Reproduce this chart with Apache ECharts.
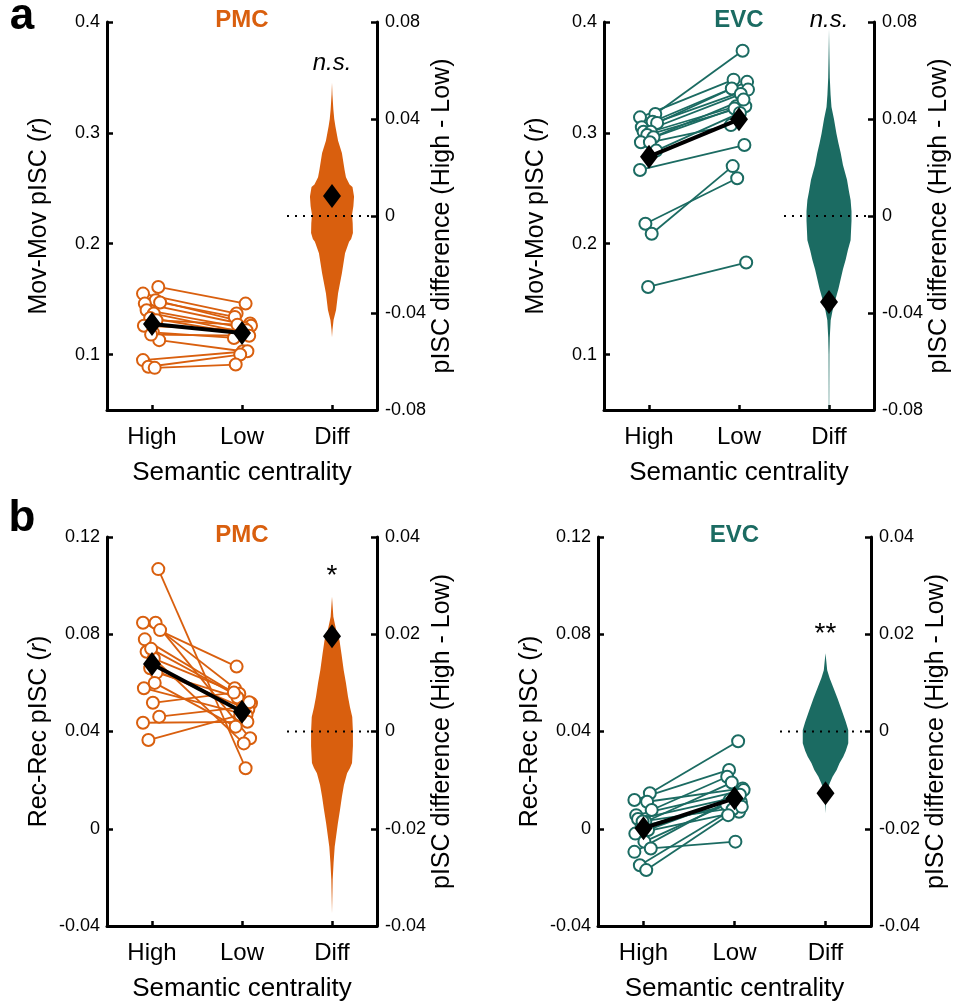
<!DOCTYPE html>
<html>
<head>
<meta charset="utf-8">
<script src="https://cdn.jsdelivr.net/npm/echarts@6/dist/echarts.min.js"></script>
<style>
  html, body { margin: 0; padding: 0; background: #fff; }
  #chart { width: 958px; height: 1003px; }
</style>
</head>
<body>
<div id="chart"></div>
<script>
// ---- data ----
const categories = ['High', 'Low', 'Diff'];

// Movie-movie pISC, PMC (one value per subject)
const movPmcHigh = [0.161, 0.155, 0.149, 0.147, 0.146, 0.140, 0.137, 0.133, 0.131, 0.126, 0.120, 0.113, 0.095, 0.089, 0.088, 0.118];
const movPmcLow  = [0.146, 0.137, 0.128, 0.134, 0.126, 0.124, 0.121, 0.118, 0.127, 0.122, 0.115, 0.103, 0.103, 0.100, 0.091, 0.117];
const movPmcMean = [0.1276, 0.1195];
const movPmcDiff = 0.0082;

// Movie-movie pISC, EVC
const movEvcHigh = [0.317, 0.314, 0.310, 0.309, 0.305, 0.301, 0.301, 0.298, 0.296, 0.2915, 0.2915, 0.284, 0.2665, 0.218, 0.209, 0.161];
const movEvcLow  = [0.374, 0.348, 0.346, 0.340, 0.339, 0.335, 0.324, 0.324, 0.322, 0.330, 0.307, 0.318, 0.289, 0.259, 0.270, 0.183];
const movEvcMean = [0.2785, 0.3122];
const movEvcDiff = -0.0355;

// Recall-recall pISC, PMC
const recPmcHigh = [0.1068, 0.0847, 0.0847, 0.0817, 0.0779, 0.0728, 0.0700, 0.0660, 0.0642, 0.0578, 0.0518, 0.0461, 0.0436, 0.0365, 0.0600, 0.0740];
const recPmcLow  = [0.0249, 0.0667, 0.0372, 0.0578, 0.0516, 0.0351, 0.0555, 0.0490, 0.0540, 0.0468, 0.0560, 0.0500, 0.0440, 0.0468, 0.0420, 0.0520];
const recPmcMean = [0.0678, 0.0481];
const recPmcDiff = 0.0196;

// Recall-recall pISC, EVC
const recEvcHigh = [0.0146, 0.0118, 0.0111, 0.0077, 0.0056, 0.0040, 0.0029, 0.0010, -0.0005, -0.0020, -0.0053, -0.0081, -0.0095, -0.0150, -0.0170, 0.0030];
const recEvcLow  = [0.0360, 0.0242, 0.0166, 0.0214, 0.0159, 0.0130, 0.0190, 0.0110, 0.0120, 0.0070, 0.0100, -0.0053, 0.0140, 0.0080, 0.0056, 0.0090];
const recEvcMean = [0.0002, 0.0125];
const recEvcDiff = -0.0127;

// horizontal scatter of subject markers (category units)
const jitterHigh = [0.07, -0.10, 0.04, 0.09, -0.08, -0.06, 0.02, -0.02, 0.05, -0.09, 0.01, 0.08, -0.10, -0.04, 0.03, -0.01];
const jitterLow  = [0.04, -0.06, 0.09, -0.08, 0.10, 0.02, -0.03, 0.07, -0.05, 0.05, -0.09, 0.01, 0.06, -0.02, -0.07, 0.08];

// permutation null distributions of High - Low: [difference, relative density]
const nullMovPmc = [[0.055,0],[0.050,0.02],[0.044,0.06],[0.040,0.1],[0.037,0.15],[0.031,0.27],[0.026,0.44],[0.019,0.56],[0.016,0.62],[0.013,0.78],[0.012,0.91],[0.008,0.98],[0.004,0.95],[0.0005,0.89],[-0.003,0.92],[-0.007,0.93],[-0.0095,0.85],[-0.0106,0.76],[-0.0154,0.58],[-0.0236,0.44],[-0.0319,0.27],[-0.0388,0.18],[-0.0429,0.07],[-0.047,0.02],[-0.050,0]];
const nullMovEvc = [[0.077,0],[0.065,0.02],[0.057,0.035],[0.050,0.07],[0.045,0.11],[0.040,0.22],[0.034,0.33],[0.030,0.42],[0.026,0.52],[0.021,0.62],[0.015,0.8],[0.010,0.89],[0.0066,0.96],[0.002,1.0],[-0.002,1.0],[-0.006,0.98],[-0.010,0.96],[-0.014,0.84],[-0.018,0.74],[-0.022,0.62],[-0.026,0.52],[-0.030,0.42],[-0.033,0.33],[-0.037,0.2],[-0.043,0.075],[-0.050,0.035],[-0.057,0.018],[-0.070,0.013],[-0.079,0.01],[-0.080,0]];
const nullRecPmc = [[0.0277,0],[0.0236,0.06],[0.021,0.18],[0.0188,0.33],[0.016,0.42],[0.0126,0.52],[0.010,0.62],[0.0072,0.71],[0.005,0.8],[0.003,0.9],[0.000,0.93],[-0.003,0.93],[-0.0065,0.89],[-0.0075,0.8],[-0.0086,0.67],[-0.011,0.53],[-0.0134,0.44],[-0.016,0.36],[-0.0189,0.26],[-0.0237,0.12],[-0.027,0.07],[-0.0305,0.03],[-0.0374,0]];
const nullRecEvc = [[0.0161,0],[0.0126,0.075],[0.011,0.18],[0.0092,0.33],[0.0068,0.53],[0.0044,0.71],[0.002,0.89],[0.0003,1.0],[-0.0024,1.0],[-0.004,0.89],[-0.0052,0.78],[-0.0065,0.62],[-0.0079,0.49],[-0.0093,0.31],[-0.0107,0.18],[-0.012,0.09],[-0.0134,0.03],[-0.0168,0]];

// tick labels
const movTicks = [0.1, 0.2, 0.3, 0.4];
const movDiffTicks = [-0.08, -0.04, 0, 0.04, 0.08];
const recTicks = [-0.04, 0, 0.04, 0.08, 0.12];
const recDiffTicks = [-0.04, -0.02, 0, 0.02, 0.04];

// ---- styling ----
const FONT = "'Liberation Sans', Arial, Helvetica, sans-serif";
const ORANGE = '#D95F0E';
const TEAL = '#1B6B62';
const VIOLIN_HALF = 0.25; // max half-width of a violin, in category units

const panels = [
  { grid: { left: 107, top: 22, width: 270, height: 388 }, color: ORANGE, title: 'PMC',
    high: movPmcHigh, low: movPmcLow, mean: movPmcMean, diff: movPmcDiff, dist: nullMovPmc,
    yName: 'Mov-Mov pISC ({it|r})', yMin: 0.05, yMax: 0.4, yTicks: movTicks,
    dMin: -0.08, dMax: 0.08, dTicks: movDiffTicks, sig: 'n.s.', sigAt: 0.0631, sigItalic: true },
  { grid: { left: 604, top: 22, width: 270, height: 388 }, color: TEAL, title: 'EVC',
    high: movEvcHigh, low: movEvcLow, mean: movEvcMean, diff: movEvcDiff, dist: nullMovEvc,
    yName: 'Mov-Mov pISC ({it|r})', yMin: 0.05, yMax: 0.4, yTicks: movTicks,
    dMin: -0.08, dMax: 0.08, dTicks: movDiffTicks, sig: 'n.s.', sigAt: 0.0808, sigItalic: true },
  { grid: { left: 107, top: 537, width: 270, height: 389 }, color: ORANGE, title: 'PMC',
    high: recPmcHigh, low: recPmcLow, mean: recPmcMean, diff: recPmcDiff, dist: nullRecPmc,
    yName: 'Rec-Rec pISC ({it|r})', yMin: -0.04, yMax: 0.12, yTicks: recTicks,
    dMin: -0.04, dMax: 0.04, dTicks: recDiffTicks, sig: '*', sigAt: 0.032, sigItalic: false },
  { grid: { left: 598, top: 537, width: 273, height: 389 }, color: TEAL, title: 'EVC',
    high: recEvcHigh, low: recEvcLow, mean: recEvcMean, diff: recEvcDiff, dist: nullRecEvc,
    yName: 'Rec-Rec pISC ({it|r})', yMin: -0.04, yMax: 0.12, yTicks: recTicks,
    dMin: -0.04, dMax: 0.04, dTicks: recDiffTicks, sig: '**', sigAt: 0.020, sigItalic: false }
];

const grids = [], xAxes = [], yAxes = [], series = [], graphics = [];

const axisLineStyle = { color: '#000', width: 3 };
const tickLabel = { color: '#000', fontSize: 18, fontFamily: FONT };

panels.forEach((p, i) => {
  grids.push(Object.assign({ containLabel: false }, p.grid));
  const xv = 2 * i, xc = 2 * i + 1, yl = 2 * i, yr = 2 * i + 1;

  // hidden value axis used to place marks; category axis for labels/ticks
  xAxes.push({ type: 'value', gridIndex: i, min: 0.5, max: 3.5, show: false });
  xAxes.push({
    type: 'category', gridIndex: i, data: categories, boundaryGap: true, position: 'bottom',
    axisLine: { show: true, onZero: false, lineStyle: axisLineStyle },
    axisTick: { show: true, alignWithLabel: true, inside: true, length: 5, lineStyle: { color: '#000', width: 2.5 } },
    axisLabel: { color: '#000', fontSize: 24, fontFamily: FONT, margin: 15 },
    splitLine: { show: false },
    name: 'Semantic centrality', nameLocation: 'middle', nameGap: 50,
    nameTextStyle: { color: '#000', fontSize: 26, fontFamily: FONT }
  });

  yAxes.push({
    type: 'value', gridIndex: i, position: 'left', min: p.yMin, max: p.yMax,
    axisLine: { show: true, onZero: false, lineStyle: axisLineStyle },
    axisTick: { show: true, inside: true, length: 6, customValues: p.yTicks, lineStyle: { color: '#000', width: 2.5 } },
    axisLabel: Object.assign({ margin: 7, customValues: p.yTicks, formatter: v => String(v) }, tickLabel),
    splitLine: { show: false },
    name: p.yName, nameLocation: 'middle', nameRotate: 90, nameGap: 55,
    nameTextStyle: { color: '#000', fontSize: 25, fontFamily: FONT,
      rich: { it: { fontStyle: 'italic', fontSize: 25, fontFamily: FONT, color: '#000' } } }
  });
  yAxes.push({
    type: 'value', gridIndex: i, position: 'right', min: p.dMin, max: p.dMax,
    axisLine: { show: true, onZero: false, lineStyle: axisLineStyle },
    axisTick: { show: true, inside: true, length: 6, customValues: p.dTicks, lineStyle: { color: '#000', width: 2.5 } },
    axisLabel: Object.assign({ margin: 8, customValues: p.dTicks, formatter: v => String(v) }, tickLabel),
    splitLine: { show: false },
    name: 'pISC difference (High - Low)', nameLocation: 'middle', nameRotate: 90, nameGap: 48,
    nameTextStyle: { color: '#000', fontSize: 25, fontFamily: FONT }
  });

  // null distribution violin at the Diff position
  const dist = p.dist, col = p.color;
  series.push({
    type: 'custom', xAxisIndex: xv, yAxisIndex: yr, z: 1, silent: true, clip: false,
    data: [[3, 0]],
    renderItem: (params, api) => {
      const right = [], left = [];
      dist.forEach(([v, d]) => {
        right.push(api.coord([3 + d * VIOLIN_HALF, v]));
        left.push(api.coord([3 - d * VIOLIN_HALF, v]));
      });
      return { type: 'polygon', shape: { points: right.concat(left.reverse()) }, style: { fill: col } };
    }
  });

  // dotted zero reference
  series.push({
    type: 'line', xAxisIndex: xv, yAxisIndex: yr, z: 2, silent: true, symbol: 'none',
    data: [[2.5, 0], [3.45, 0]],
    lineStyle: { color: '#000', width: 2, type: [2, 6] }
  });

  // one line per subject
  p.high.forEach((h, k) => {
    series.push({
      type: 'line', xAxisIndex: xv, yAxisIndex: yl, z: 3, silent: true,
      data: [[1 + jitterHigh[k], h], [2 + jitterLow[k], p.low[k]]],
      symbol: 'circle', symbolSize: 12, showSymbol: true,
      itemStyle: { color: '#fff', borderColor: col, borderWidth: 2 },
      lineStyle: { color: col, width: 1.8 }
    });
  });

  // group means
  series.push({
    type: 'line', xAxisIndex: xv, yAxisIndex: yl, z: 5, silent: true,
    data: [[1, p.mean[0]], [2, p.mean[1]]],
    symbol: 'diamond', symbolSize: [18, 24],
    itemStyle: { color: '#000', opacity: 1 }, lineStyle: { color: '#000', width: 4 }
  });

  // observed difference and significance mark
  series.push({
    type: 'scatter', xAxisIndex: xv, yAxisIndex: yr, z: 5, silent: true, clip: false,
    data: [[3, p.diff]], symbol: 'diamond', symbolSize: [18, 24], itemStyle: { color: '#000', opacity: 1 }
  });
  series.push({
    type: 'scatter', xAxisIndex: xv, yAxisIndex: yr, z: 6, silent: true, clip: false,
    data: [[3, p.sigAt]], symbolSize: 1, itemStyle: { color: 'rgba(0,0,0,0)', opacity: 1 },
    label: { show: true, position: 'inside', formatter: p.sig, color: '#000', opacity: 1,
      fontSize: p.sigItalic ? 24 : 28, fontStyle: p.sigItalic ? 'italic' : 'normal', fontFamily: FONT }
  });

  graphics.push({
    type: 'text', x: p.grid.left + p.grid.width / 2, y: p.grid.top - 2,
    style: { text: p.title, fill: p.color, font: `bold 24px ${FONT}`, textAlign: 'center', textVerticalAlign: 'middle' }
  });
});

graphics.push({ type: 'text', x: 22, y: 17, style: { text: 'a', fill: '#000', font: `bold 44px ${FONT}`, textAlign: 'center', textVerticalAlign: 'middle' } });
graphics.push({ type: 'text', x: 22, y: 519, style: { text: 'b', fill: '#000', font: `bold 44px ${FONT}`, textAlign: 'center', textVerticalAlign: 'middle' } });

const chart = echarts.init(document.getElementById('chart'), null, { renderer: 'canvas' });
chart.setOption({
  animation: false,
  backgroundColor: '#fff',
  grid: grids,
  xAxis: xAxes,
  yAxis: yAxes,
  series: series,
  graphic: graphics
});
</script>
</body>
</html>
